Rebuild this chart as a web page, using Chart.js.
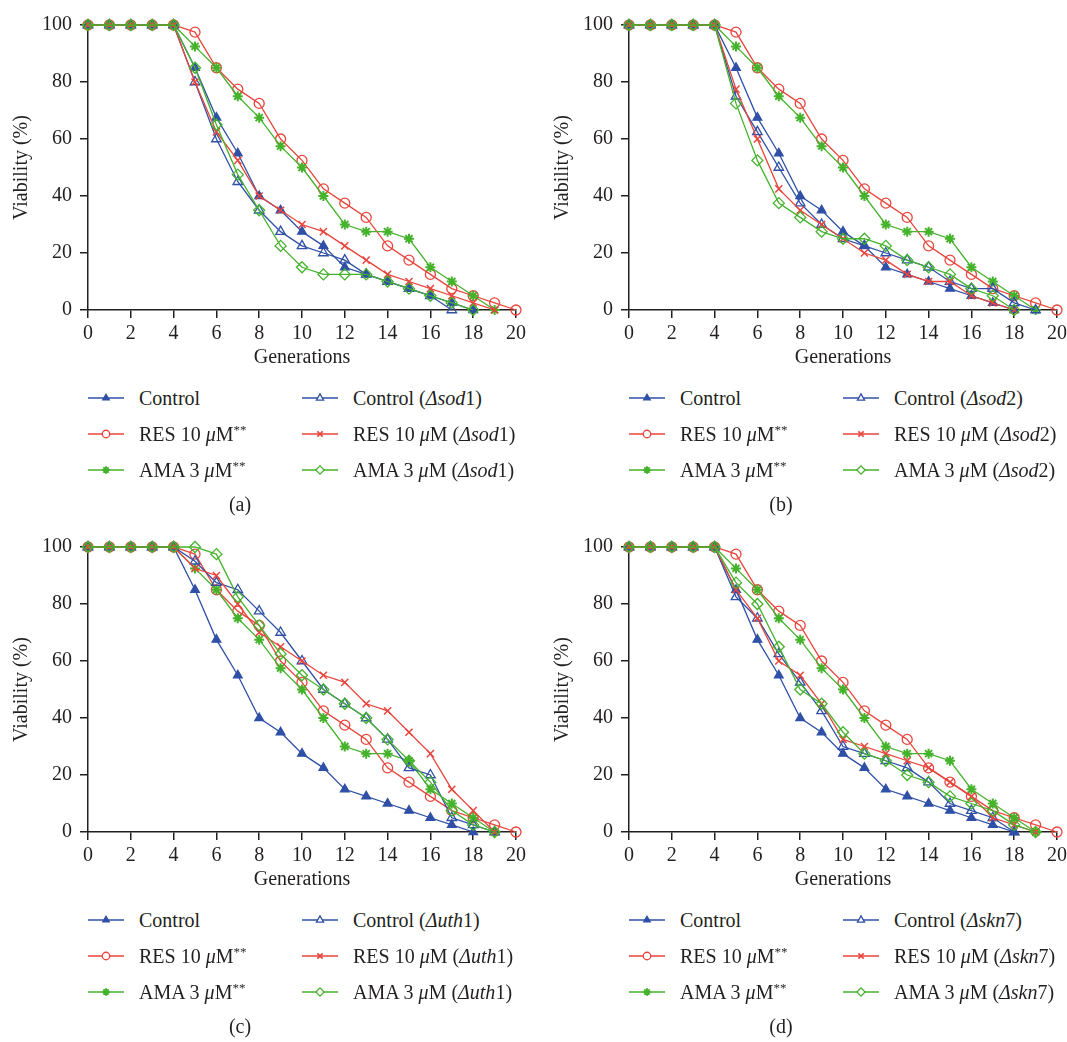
<!DOCTYPE html>
<html>
<head>
<meta charset="utf-8">
<script src="https://cdn.jsdelivr.net/npm/chart.js@4.4.0/dist/chart.umd.min.js"></script>
<style>
  body { margin: 0; background: #fff; }
  #wrap { position: relative; width: 1067px; height: 1042px; font-family: "Liberation Serif", serif; color: #231f20; }
  .panel { position: absolute; width: 540px; height: 370px; }
  .item { position: absolute; height: 24px; display: flex; align-items: center; font-size: 20px; white-space: nowrap; }
  .item canvas { width: 36px; height: 20px; }
  .item span { margin-left: 15px; }
  .item sup { font-size: 13px; vertical-align: 7px; line-height: 0; }
  .tag { position: absolute; width: 60px; text-align: center; font-size: 20px; line-height: 24px; }
</style>
</head>
<body>
<div id="wrap"></div>
<script>
// Generaciones (eje x) y ticks
const generations = [0, 1, 2, 3, 4, 5, 6, 7, 8, 9, 10, 11, 12, 13, 14, 15, 16, 17, 18, 19, 20];
const yTicks = [0, 20, 40, 60, 80, 100];

// Series comunes a los cuatro paneles
const control = [100, 100, 100, 100, 100, 85, 67.5, 55, 40, 35, 27.5, 22.5, 15, 12.5, 10, 7.5, 5, 2.5, 0];
const res10 = [100, 100, 100, 100, 100, 97.5, 85, 77.5, 72.5, 60, 52.5, 42.5, 37.5, 32.5, 22.5, 17.5, 12.5, 7.5, 5, 2.5, 0];
const ama3 = [100, 100, 100, 100, 100, 92.5, 85, 75, 67.5, 57.5, 50, 40, 30, 27.5, 27.5, 25, 15, 10, 5, 0];

// (a) sod1
const ctrlSod1 = [100, 100, 100, 100, 100, 80, 60, 45, 35, 27.5, 22.5, 20, 17.5, 12.5, 10, 7.5, 5, 0];
const resSod1 = [100, 100, 100, 100, 100, 80, 62.5, 52.5, 40, 35, 30, 27.5, 22.5, 17.5, 12.5, 10, 7.5, 5, 2.5, 0];
const amaSod1 = [100, 100, 100, 100, 100, 85, 65, 47.5, 35, 22.5, 15, 12.5, 12.5, 12.5, 10, 7.5, 5, 2.5, 0];

// (b) sod2
const ctrlSod2 = [100, 100, 100, 100, 100, 75, 62.5, 50, 37.5, 30, 25, 22.5, 20, 17.5, 15, 10, 7.5, 7.5, 2.5, 0];
const resSod2 = [100, 100, 100, 100, 100, 77.5, 60, 42.5, 35, 30, 25, 20, 17.5, 12.5, 10, 10, 5, 2.5, 0];
const amaSod2 = [100, 100, 100, 100, 100, 72.5, 52.5, 37.5, 32.5, 27.5, 25, 25, 22.5, 17.5, 15, 12.5, 7.5, 5, 0];

// (c) uth1
const ctrlUth1 = [100, 100, 100, 100, 100, 95, 87.5, 85, 77.5, 70, 60, 50, 45, 40, 32.5, 22.5, 20, 5, 2.5, 0];
const resUth1 = [100, 100, 100, 100, 100, 92.5, 90, 80, 70, 65, 60, 55, 52.5, 45, 42.5, 35, 27.5, 15, 7.5, 0];
const amaUth1 = [100, 100, 100, 100, 100, 100, 97.5, 82.5, 72.5, 62.5, 55, 50, 45, 40, 32.5, 25, 17.5, 7.5, 2.5, 0];

// (d) skn7
const ctrlSkn7 = [100, 100, 100, 100, 100, 82.5, 75, 62.5, 52.5, 42.5, 30, 27.5, 25, 22.5, 17.5, 10, 7.5, 5, 0];
const resSkn7 = [100, 100, 100, 100, 100, 85, 75, 60, 55, 45, 32.5, 30, 27.5, 25, 22.5, 17.5, 12.5, 5, 2.5, 0];
const amaSkn7 = [100, 100, 100, 100, 100, 87.5, 80, 65, 50, 45, 35, 27.5, 25, 20, 17.5, 12.5, 10, 7.5, 2.5, 0];

const BLUE = '#2f50a6';
const RED = '#e8443b';
const GREEN = '#45b22c';
const INK = '#231f20';

Chart.defaults.font.family = '"Liberation Serif", serif';
Chart.defaults.color = INK;

// Estilo de cada serie (mismo orden que la leyenda)
const styles = [
    { color: BLUE, shape: 'triangle', fill: true, r: 5, bw: 1.3 },
    { color: RED, shape: 'circle', fill: false, r: 5, bw: 1.3 },
    { color: GREEN, shape: 'star', fill: false, r: 5, bw: 2 },
    { color: BLUE, shape: 'triangle', fill: false, r: 5.5, bw: 1.3 },
    { color: RED, shape: 'crossRot', fill: false, r: 5, bw: 1.5 },
    { color: GREEN, shape: 'rectRot', fill: false, r: 5.5, bw: 1.3 }
];

function toPoints(values) {
    return values.map((v, i) => ({ x: generations[i], y: v }));
}

const wrap = document.getElementById('wrap');

function makePanel(left, top, tag, mutant, series) {
    const box = document.createElement('div');
    box.className = 'panel';
    box.style.left = left + 'px';
    box.style.top = top + 'px';
    const canvas = document.createElement('canvas');
    canvas.width = 540;
    canvas.height = 370;
    box.appendChild(canvas);
    wrap.appendChild(box);

    const datasets = series.map((values, k) => {
        const s = styles[k];
        return {
            data: toPoints(values),
            borderColor: s.color,
            borderWidth: 1.3,
            pointStyle: s.shape,
            pointRadius: s.r,
            pointHoverRadius: s.r,
            pointBorderWidth: s.bw,
            pointBorderColor: s.color,
            pointBackgroundColor: s.fill ? s.color : 'rgba(0,0,0,0)',
            clip: false,
            order: 5 - k
        };
    });

    new Chart(canvas, {
        type: 'line',
        data: { datasets: datasets },
        options: {
            responsive: false,
            animation: false,
            maintainAspectRatio: false,
            layout: { padding: { left: 0, right: 24, top: 25, bottom: 0 } },
            plugins: { legend: { display: false }, tooltip: { enabled: false } },
            scales: {
                x: {
                    type: 'linear', min: 0, max: 20,
                    afterFit: scale => { scale.height = 60; },
                    ticks: { stepSize: 2, padding: 4, font: { size: 20 }, color: INK },
                    grid: { drawOnChartArea: false, drawTicks: true, tickLength: 8, color: INK, lineWidth: 1.5 },
                    border: { display: true, color: INK, width: 1.5 },
                    title: { display: true, text: 'Generations', font: { size: 20 }, color: INK, padding: { top: 0, bottom: 0 } }
                },
                y: {
                    min: 0, max: 100,
                    afterFit: scale => { scale.width = 88; },
                    afterBuildTicks: scale => { scale.ticks = yTicks.map(v => ({ value: v })); },
                    ticks: { padding: 8, font: { size: 20 }, color: INK },
                    grid: { drawOnChartArea: false, drawTicks: true, tickLength: 8, color: INK, lineWidth: 1.5 },
                    border: { display: true, color: INK, width: 1.5 },
                    title: { display: true, text: 'Viability (%)', font: { size: 20 }, color: INK, padding: { top: 10, bottom: 0 } }
                }
            }
        }
    });

    // Leyenda en HTML (cursivas y superíndices)
    const mu = '<i>&mu;</i>M';
    const mut = '(<i>&Delta;' + mutant.name + '</i>' + mutant.num + ')';
    const labels = [
        'Control',
        'RES 10 ' + mu + '<sup>**</sup>',
        'AMA 3 ' + mu + '<sup>**</sup>',
        'Control ' + mut,
        'RES 10 ' + mu + ' ' + mut,
        'AMA 3 ' + mu + ' ' + mut
    ];
    const rows = [398, 434, 470];
    labels.forEach((txt, k) => {
        const col = k < 3 ? 0 : 1;
        const row = k % 3;
        const item = document.createElement('div');
        item.className = 'item';
        item.style.left = (left + (col === 0 ? 88 : 302)) + 'px';
        item.style.top = (top + rows[row] - 12) + 'px';
        const sw = document.createElement('canvas');
        sw.width = 36; sw.height = 20;
        const ctx = sw.getContext('2d');
        const s = styles[k];
        ctx.strokeStyle = s.color;
        ctx.lineWidth = 1.3;
        ctx.beginPath(); ctx.moveTo(0, 10); ctx.lineTo(36, 10); ctx.stroke();
        ctx.fillStyle = s.fill ? s.color : '#fff';
        ctx.strokeStyle = s.color;
        ctx.lineWidth = s.bw;
        Chart.helpers.drawPoint(ctx, { pointStyle: s.shape, radius: s.r * 0.75, rotation: 0, borderWidth: s.bw }, 18, 10);
        item.appendChild(sw);
        const span = document.createElement('span');
        span.innerHTML = txt;
        item.appendChild(span);
        wrap.appendChild(item);
    });

    const t = document.createElement('div');
    t.className = 'tag';
    t.style.left = (left + 240 - 30) + 'px';
    t.style.top = (top + 492) + 'px';
    t.textContent = tag;
    wrap.appendChild(t);
}

makePanel(0, 0, '(a)', { name: 'sod', num: '1' }, [control, res10, ama3, ctrlSod1, resSod1, amaSod1]);
makePanel(541, 0, '(b)', { name: 'sod', num: '2' }, [control, res10, ama3, ctrlSod2, resSod2, amaSod2]);
makePanel(0, 522, '(c)', { name: 'uth', num: '1' }, [control, res10, ama3, ctrlUth1, resUth1, amaUth1]);
makePanel(541, 522, '(d)', { name: 'skn', num: '7' }, [control, res10, ama3, ctrlSkn7, resSkn7, amaSkn7]);
</script>
</body>
</html>
